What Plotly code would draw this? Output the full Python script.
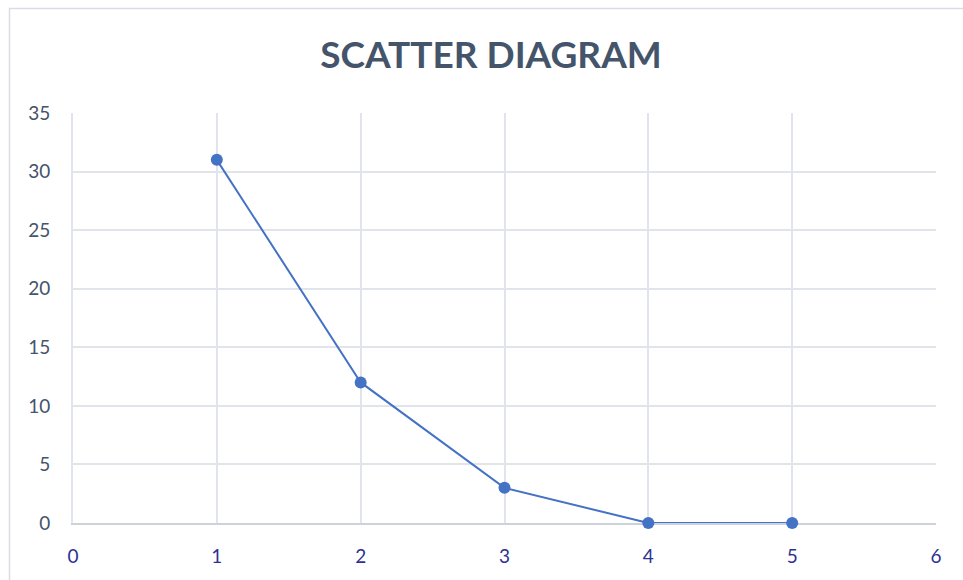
import plotly.graph_objects as go

x_values = [1, 2, 3, 4, 5]
y_values = [31, 12, 3, 0, 0]
title_text = "SCATTER DIAGRAM"

fig = go.Figure()
fig.add_trace(go.Scatter(
    x=x_values, y=y_values, mode="lines+markers",
    line=dict(color="#4472C4", width=2),
    marker=dict(color="#4472C4", size=12),
    showlegend=False, hoverinfo="x+y", cliponaxis=False,
))

L, R, T, B = 73, 27, 113, 57
W, H = 963, 580
pw, ph = W - L - R, H - T - B

def px_to_paper_x(px):
    return (px - L) / pw

def px_to_paper_y(py):
    return (H - B - py) / ph

fig.add_shape(type="rect", xref="paper", yref="paper",
              x0=px_to_paper_x(9.5), x1=px_to_paper_x(975),
              y0=px_to_paper_y(600), y1=px_to_paper_y(8.5),
              line=dict(color="#D9DDE3", width=1.5), fillcolor="rgba(0,0,0,0)", layer="below")

grid = "#E1E5EB"
fig.update_layout(
    width=W, height=H,
    margin=dict(l=L, r=R, t=T, b=B),
    paper_bgcolor="white", plot_bgcolor="white",
    font=dict(family="Lato, Open Sans, sans-serif"),
    title=dict(text="<b>" + title_text + "</b>", xref="paper", x=px_to_paper_x(491), xanchor="center",
               y=1 - 55 / H, yanchor="middle",
               font=dict(size=37, color="#44546A", family="Lato, Open Sans, sans-serif")),
    xaxis=dict(range=[0, 6], dtick=1, showgrid=True, gridcolor=grid, gridwidth=2,
               zeroline=False, showline=True, linecolor="#CDD2DA", linewidth=2,
               tickfont=dict(size=19, color="#2E3192"), ticks="outside", ticklen=15,
               tickcolor="rgba(0,0,0,0)", fixedrange=True, layer="below traces"),
    yaxis=dict(range=[0, 35], dtick=5, showgrid=True, gridcolor=grid, gridwidth=2,
               zeroline=False, showline=True, linecolor=grid, linewidth=2,
               tickfont=dict(size=19, color="#44546A"), ticks="outside", ticklen=17,
               tickcolor="rgba(0,0,0,0)", fixedrange=True, layer="below traces"),
)

fig.write_html("out.html", config={"displayModeBar": False},
               post_script="document.body.style.margin='0';document.body.style.overflow='hidden';")
